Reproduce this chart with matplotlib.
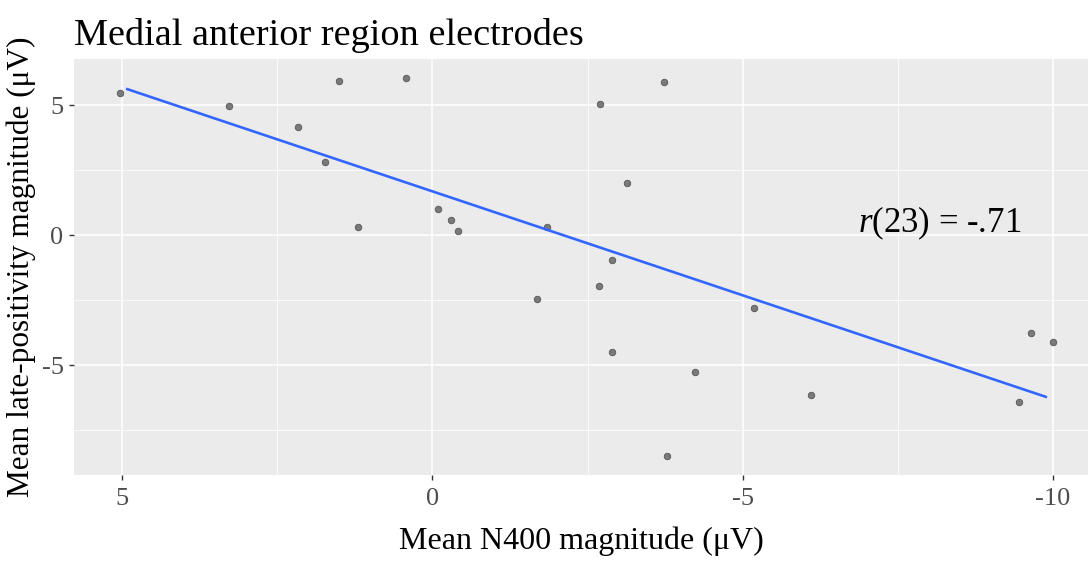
import matplotlib.pyplot as plt
import numpy as np

# Mean N400 magnitude (x) and mean late-positivity magnitude (y), one per electrode
n400 = [5.04, 3.28, 2.17, 1.50, 1.74, 0.43, 1.20, -0.09, -0.30, -0.41,
        -3.74, -2.70, -3.14, -1.84, -2.89, -2.69, -1.69, -5.18, -2.90,
        -4.23, -6.10, -3.78, -9.65, -10.01, -9.45]
late_pos = [5.46, 4.97, 4.18, 5.93, 2.83, 6.06, 0.33, 1.01, 0.60, 0.17,
            5.88, 5.04, 2.00, 0.31, -0.96, -1.95, -2.46, -2.81, -4.48,
            -5.25, -6.15, -8.49, -3.77, -4.10, -6.42]

x_ticks = [5, 0, -5, -10]
y_ticks = [5, 0, -5]

x = np.array(n400)
y = np.array(late_pos)

plt.rcParams['font.family'] = ['Liberation Serif', 'DejaVu Serif']
plt.rcParams['mathtext.fontset'] = 'custom'
plt.rcParams['mathtext.it'] = 'Liberation Serif:italic'
plt.rcParams['mathtext.rm'] = 'Liberation Serif'

fig = plt.figure(figsize=(10.91, 5.61), dpi=100)
ax = fig.add_subplot(111)
fig.subplots_adjust(left=74/1091, right=1088/1091, top=1-59/561, bottom=1-475/561)

ax.set_facecolor('#EBEBEB')
for s in ax.spines.values():
    s.set_visible(False)

ax.scatter(x, y, s=22, color='#7a7a7a', edgecolors='#555555', linewidths=0.6, zorder=3)

# least squares line, drawn a touch inside the data range like the original
slope, icpt = np.polyfit(x, y, 1)
xs = np.array([x.min() + 0.12, x.max() - 0.12])
ax.plot(xs, slope*xs + icpt, color='#3366FF', lw=1.9, zorder=4)

ax.set_xlim(5.78, -10.57)
ax.set_ylim(-9.22, 6.78)

ax.set_xticks(x_ticks)
ax.set_xticklabels([str(t) for t in x_ticks])
ax.set_yticks(y_ticks)
ax.set_yticklabels([str(t) for t in y_ticks])
ax.set_xticks([2.5, -2.5, -7.5], minor=True)
ax.set_yticks([2.5, -2.5, -7.5], minor=True)

ax.grid(which='major', color='white', lw=1.1)
ax.grid(which='minor', color='white', lw=0.55)
ax.set_axisbelow(True)
ax.tick_params(which='major', length=3.5, width=1, color='#333333',
               labelcolor='#4D4D4D', labelsize=19)
ax.tick_params(axis='x', pad=6)
ax.tick_params(axis='y', pad=4)
ax.tick_params(which='minor', length=0)

ax.set_xlabel('Mean N400 magnitude (\u03bcV)', fontsize=23, labelpad=12)
ax.set_ylabel('Mean late-positivity magnitude (\u03bcV)', fontsize=22.5, labelpad=4)
ax.set_title('Medial anterior region electrodes', fontsize=27.5, loc='left', x=0.0, pad=10)

ax.text(-8.18, 0.45, '$r$(23) = -.71', fontsize=25,
        ha='center', va='center', color='black')

fig.savefig('out.png', dpi=100)
